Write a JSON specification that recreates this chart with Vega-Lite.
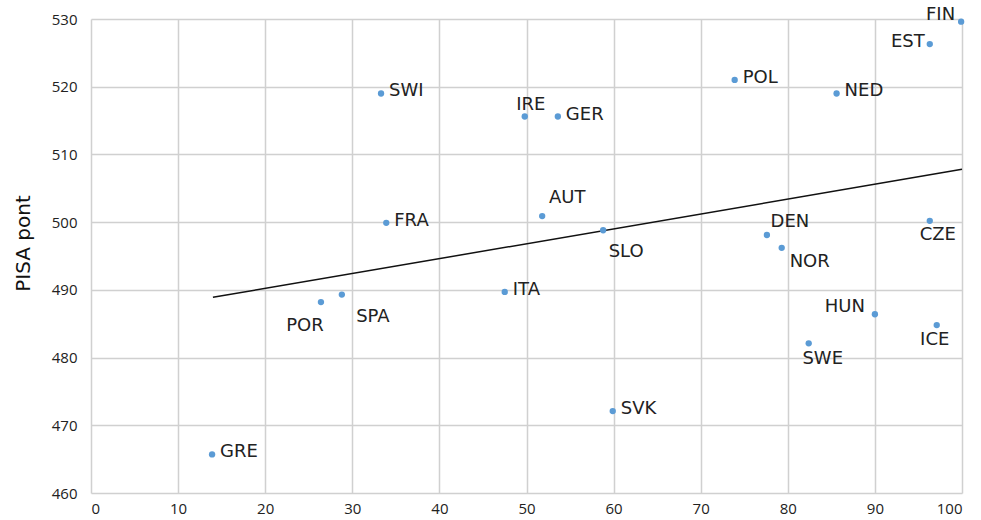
{
  "$schema": "https://vega.github.io/schema/vega-lite/v6.json",
  "width": 871,
  "height": 474,
  "autosize": {"type": "none"},
  "padding": {"left": 91, "top": 19, "right": 19, "bottom": 27},
  "background": "white",
  "config": {
    "view": {"stroke": null},
    "font": "Open Sans",
    "text": {"font": "DejaVu Sans", "fontSize": 18, "color": "#222"},
    "axis": {"grid": true, "gridColor": "#d0d0d0", "gridWidth": 1.5, "domain": false, "ticks": false, "labelColor": "#222", "labelFont": "Open Sans", "labelFontSize": 15}
  },
  "datasets": {
    "pts": [
      {"c": "GRE", "x": 13.9, "y": 465.7},
      {"c": "POR", "x": 26.4, "y": 488.2},
      {"c": "SPA", "x": 28.8, "y": 489.3},
      {"c": "SWI", "x": 33.3, "y": 519.0},
      {"c": "FRA", "x": 33.9, "y": 499.9},
      {"c": "ITA", "x": 47.5, "y": 489.7},
      {"c": "IRE", "x": 49.8, "y": 515.6},
      {"c": "AUT", "x": 51.8, "y": 500.9},
      {"c": "GER", "x": 53.6, "y": 515.6},
      {"c": "SLO", "x": 58.8, "y": 498.8},
      {"c": "SVK", "x": 59.9, "y": 472.1},
      {"c": "POL", "x": 73.9, "y": 521.0},
      {"c": "DEN", "x": 77.6, "y": 498.1},
      {"c": "NOR", "x": 79.3, "y": 496.2},
      {"c": "SWE", "x": 82.4, "y": 482.1},
      {"c": "NED", "x": 85.6, "y": 519.0},
      {"c": "HUN", "x": 90.0, "y": 486.4},
      {"c": "EST", "x": 96.3, "y": 526.3},
      {"c": "CZE", "x": 96.3, "y": 500.2},
      {"c": "ICE", "x": 97.1, "y": 484.8},
      {"c": "FIN", "x": 99.9, "y": 529.6}
    ],
    "trend": [
      {"x": 14.0, "y": 488.9},
      {"x": 100, "y": 507.8}
    ]
  },
  "encoding": {
    "x": {"field": "x", "type": "quantitative", "scale": {"domain": [0, 100], "nice": false}, "axis": {"values": [0,10,20,30,40,50,60,70,80,90,100], "title": null, "labelPadding": 8}},
    "y": {"field": "y", "type": "quantitative", "scale": {"domain": [460, 530], "nice": false, "zero": false}, "axis": {"values": [460,470,480,490,500,510,520,530], "title": "PISA pont", "titleFontSize": 20, "titleFont": "DejaVu Sans", "titleFontWeight": "normal", "titleColor": "#111", "titlePadding": 18, "titleY": 224, "labelPadding": 14}}
  },
  "layer": [
    {"data": {"name": "trend"}, "mark": {"type": "line", "color": "#111", "strokeWidth": 1.5}},
    {"data": {"name": "pts"}, "mark": {"type": "point", "filled": true, "shape": "circle", "size": 40, "color": "#5B9BD5", "opacity": 1}},
    {"data": {"name": "pts"}, "transform": [{"filter": {"field": "c", "oneOf": ["GRE","SWI","FRA","GER","POL","NED","SVK","ITA"]}}], "mark": {"type": "text", "align": "left", "baseline": "middle", "dx": 8, "dy": -2}, "encoding": {"text": {"field": "c"}}},
    {"data": {"name": "pts"}, "transform": [{"filter": {"field": "c", "equal": "EST"}}], "mark": {"type": "text", "align": "right", "baseline": "middle", "dx": -5, "dy": -2}, "encoding": {"text": {"field": "c"}}},
    {"data": {"name": "pts"}, "transform": [{"filter": {"field": "c", "equal": "FIN"}}], "mark": {"type": "text", "align": "right", "baseline": "middle", "dx": -6, "dy": -7}, "encoding": {"text": {"field": "c"}}},
    {"data": {"name": "pts"}, "transform": [{"filter": {"field": "c", "equal": "HUN"}}], "mark": {"type": "text", "align": "right", "baseline": "middle", "dx": -10, "dy": -7}, "encoding": {"text": {"field": "c"}}},
    {"data": {"name": "pts"}, "transform": [{"filter": {"field": "c", "equal": "IRE"}}], "mark": {"type": "text", "align": "center", "baseline": "middle", "dx": 6, "dy": -12}, "encoding": {"text": {"field": "c"}}},
    {"data": {"name": "pts"}, "transform": [{"filter": {"field": "c", "equal": "AUT"}}], "mark": {"type": "text", "align": "center", "baseline": "middle", "dx": 25, "dy": -18}, "encoding": {"text": {"field": "c"}}},
    {"data": {"name": "pts"}, "transform": [{"filter": {"field": "c", "equal": "DEN"}}], "mark": {"type": "text", "align": "center", "baseline": "middle", "dx": 23, "dy": -13}, "encoding": {"text": {"field": "c"}}},
    {"data": {"name": "pts"}, "transform": [{"filter": {"field": "c", "equal": "SLO"}}], "mark": {"type": "text", "align": "center", "baseline": "middle", "dx": 23, "dy": 22}, "encoding": {"text": {"field": "c"}}},
    {"data": {"name": "pts"}, "transform": [{"filter": {"field": "c", "equal": "NOR"}}], "mark": {"type": "text", "align": "center", "baseline": "middle", "dx": 28, "dy": 14}, "encoding": {"text": {"field": "c"}}},
    {"data": {"name": "pts"}, "transform": [{"filter": {"field": "c", "equal": "CZE"}}], "mark": {"type": "text", "align": "center", "baseline": "middle", "dx": 8, "dy": 14}, "encoding": {"text": {"field": "c"}}},
    {"data": {"name": "pts"}, "transform": [{"filter": {"field": "c", "equal": "ICE"}}], "mark": {"type": "text", "align": "center", "baseline": "middle", "dx": -2, "dy": 15}, "encoding": {"text": {"field": "c"}}},
    {"data": {"name": "pts"}, "transform": [{"filter": {"field": "c", "equal": "SWE"}}], "mark": {"type": "text", "align": "center", "baseline": "middle", "dx": 14, "dy": 16}, "encoding": {"text": {"field": "c"}}},
    {"data": {"name": "pts"}, "transform": [{"filter": {"field": "c", "equal": "POR"}}], "mark": {"type": "text", "align": "center", "baseline": "middle", "dx": -16, "dy": 24}, "encoding": {"text": {"field": "c"}}},
    {"data": {"name": "pts"}, "transform": [{"filter": {"field": "c", "equal": "SPA"}}], "mark": {"type": "text", "align": "center", "baseline": "middle", "dx": 31, "dy": 22}, "encoding": {"text": {"field": "c"}}}
  ]
}
